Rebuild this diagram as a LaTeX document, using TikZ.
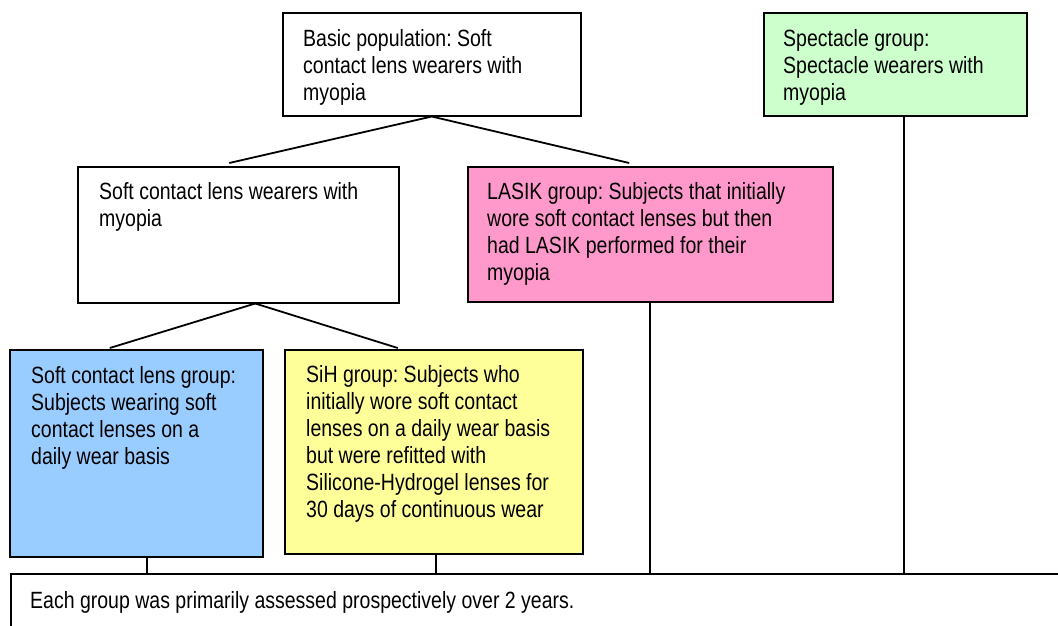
\documentclass[tikz,border=0pt]{standalone}
\usepackage{fontspec}
\setmainfont[FakeStretch=0.83]{Liberation Sans}
\usepackage{xcolor}
\usetikzlibrary{positioning,shadows}
\frenchspacing

\definecolor{specgreen}{RGB}{204,255,204}
\definecolor{lasikpink}{RGB}{255,153,204}
\definecolor{softblue}{RGB}{153,204,255}
\definecolor{sihyellow}{RGB}{255,255,153}

\begin{document}
\begin{tikzpicture}[
    x=1pt, y=-1pt,
    box/.style={rectangle, draw, line width=1.5pt, anchor=north west, inner sep=0pt,
        drop shadow={shadow xshift=1.3pt, shadow yshift=-1.3pt, fill=black!75, opacity=1}},
    txt/.style={anchor=north west, inner sep=0pt, align=left, font=\fontsize{23.5}{27}\selectfont},
    link/.style={line width=1.8pt}
]
\useasboundingbox (0,0) rectangle (1058,625);

% boxes
\node[box, fill=white, minimum width=298pt, minimum height=103pt] (basic) at (282,12) {};
\node[box, fill=specgreen, minimum width=263pt, minimum height=103pt] (spect) at (763,12) {};
\node[box, fill=white, minimum width=321pt, minimum height=136pt] (wearers) at (77,166) {};
\node[box, fill=lasikpink, minimum width=365pt, minimum height=135pt] (lasik) at (467,166) {};
\node[box, fill=softblue, minimum width=253pt, minimum height=207pt] (softgrp) at (9,349) {};
\node[box, fill=sihyellow, minimum width=298pt, minimum height=204pt] (sih) at (284,349) {};
\node[box, fill=white, minimum width=1080pt, minimum height=80pt] (assess) at (10,573) {};

% texts
\node[txt] (basic-t) at ([shift={(21,17)}]basic.north west) {Basic population: Soft\\contact lens wearers with\\myopia};
\node[txt] (spect-t) at ([shift={(20,17)}]spect.north west) {Spectacle group:\\Spectacle wearers with\\myopia};
\node[txt] (wearers-t) at ([shift={(22,16)}]wearers.north west) {Soft contact lens wearers with\\myopia};
\node[txt] (lasik-t) at ([shift={(20,16)}]lasik.north west) {LASIK group: Subjects that initially\\wore soft contact lenses but then\\had LASIK performed for their\\myopia};
\node[txt] (softgrp-t) at ([shift={(22,17)}]softgrp.north west) {Soft contact lens group:\\Subjects wearing soft\\contact lenses on a\\daily wear basis};
\node[txt] (sih-t) at ([shift={(22,16)}]sih.north west) {SiH group: Subjects who\\initially wore soft contact\\lenses on a daily wear basis\\but were refitted with\\Silicone-Hydrogel lenses for\\30 days of continuous wear};
\node[txt] (assess-t) at ([shift={(20,18)}]assess.north west) {Each group was primarily assessed prospectively over 2 years.};

% branches
\draw[link] (basic.south) -- ([shift={(-9,-3)}]wearers.north);
\draw[link] (basic.south) -- ([shift={(-21,-3)}]lasik.north);
\coordinate (fork) at ([xshift=17pt]wearers.south);
\draw[link] (fork) -- ([shift={(-26.5,-1)}]softgrp.north);
\draw[link] (fork) -- ([shift={(-36,-1)}]sih.north);

% drops to the bottom box
\draw[link] ([xshift=11pt]softgrp.south) coordinate (d1) -- (d1 |- assess.north);
\draw[link] ([xshift=2pt]sih.south) coordinate (d2) -- (d2 |- assess.north);
\draw[link] (lasik.south) coordinate (d3) -- (d3 |- assess.north);
\draw[link] ([xshift=8.5pt]spect.south) coordinate (d4) -- (d4 |- assess.north);
\end{tikzpicture}
\end{document}
